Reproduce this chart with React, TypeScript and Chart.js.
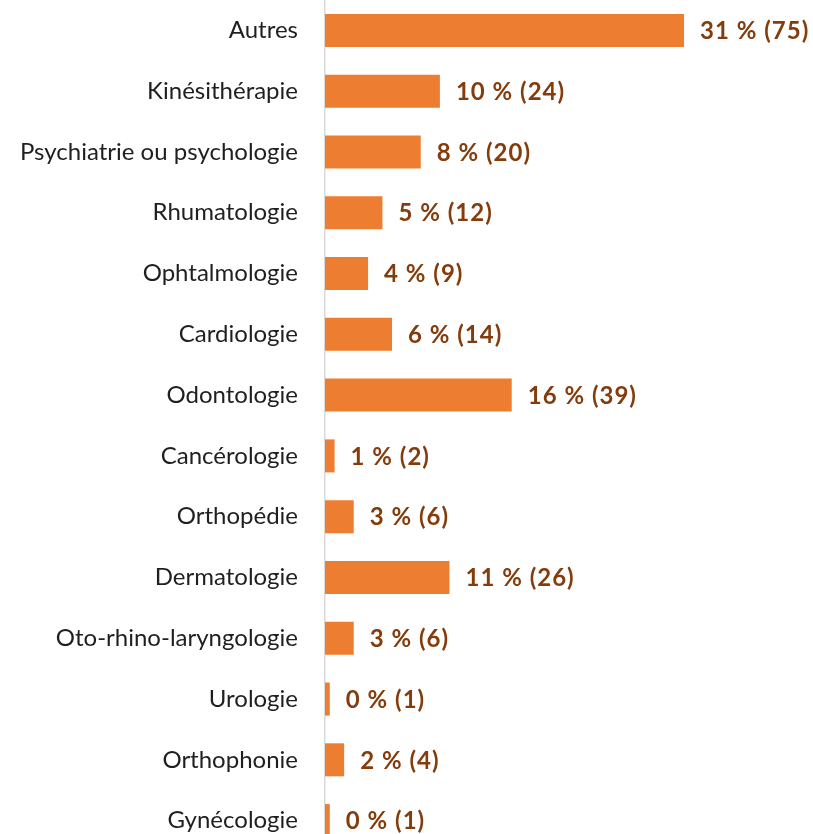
import React, { useEffect, useRef } from "react";
import { Chart, registerables } from "chart.js";

Chart.register(...registerables);

const categories = [
  "Autres",
  "Kinésithérapie",
  "Psychiatrie ou psychologie",
  "Rhumatologie",
  "Ophtalmologie",
  "Cardiologie",
  "Odontologie",
  "Cancérologie",
  "Orthopédie",
  "Dermatologie",
  "Oto-rhino-laryngologie",
  "Urologie",
  "Orthophonie",
  "Gynécologie",
];
const counts = [75, 24, 20, 12, 9, 14, 39, 2, 6, 26, 6, 1, 4, 1];
const percents = [31, 10, 8, 5, 4, 6, 16, 1, 3, 11, 3, 0, 2, 0];

const FONT = "Lato, 'Open Sans', sans-serif";

export default function App() {
  const ref = useRef<HTMLCanvasElement | null>(null);
  useEffect(() => {
    if (!ref.current) return;
    const labelPlugin = {
      id: "valueLabels",
      afterDatasetsDraw(chart: any) {
        const ctx = chart.ctx;
        const meta = chart.getDatasetMeta(0);
        ctx.save();
        ctx.font = `bold 24px ${FONT}`;
        try {
          (ctx as any).letterSpacing = "1px";
        } catch (e) {}
        ctx.fillStyle = "#843C0C";
        ctx.textAlign = "left";
        ctx.textBaseline = "middle";
        meta.data.forEach((bar: any, i: number) => {
          ctx.fillText(`${percents[i]} % (${counts[i]})`, bar.x + 16, bar.y + 1);
        });
        ctx.restore();
      },
    };
    const chart = new Chart(ref.current, {
      type: "bar",
      data: {
        labels: categories,
        datasets: [
          {
            data: counts,
            backgroundColor: "#ED7D31",
            borderWidth: 0,
            categoryPercentage: 1,
            barPercentage: 0.543,
          },
        ],
      },
      options: {
        indexAxis: "y",
        responsive: false,
        animation: false,
        layout: { padding: { top: 0, bottom: 0, left: 0, right: 105 } },
        plugins: {
          legend: { display: false },
          tooltip: { enabled: false },
        },
        scales: {
          x: {
            display: false,
            min: 0,
            max: 80,
          },
          y: {
            afterFit(scale: any) {
              scale.width = 325;
              scale.paddingTop = 0;
              scale.paddingBottom = 0;
            },
            grid: { display: false, drawTicks: false },
            border: { display: true, color: "#D9D9D9", width: 1.5 },
            ticks: {
              padding: 27,
              color: "#1F1F1F",
              font: { family: FONT, size: 24 },
            },
          },
        },
      },
      plugins: [labelPlugin],
    });
    return () => chart.destroy();
  }, []);
  return (
    <div
      style={{
        position: "absolute",
        left: 0,
        top: 0,
        width: 813,
        height: 834,
        overflow: "hidden",
        background: "#fff",
      }}
    >
      <canvas ref={ref} width={813} height={851} style={{ width: 813, height: 851, display: "block" }} />
    </div>
  );
}
